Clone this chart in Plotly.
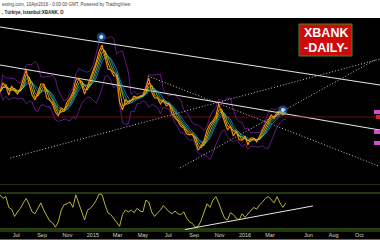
import pandas as pd
import plotly.graph_objects as go

# ---------------- data ----------------
start_date = "2014-05-23"
n_weeks = 99
dates = pd.date_range(start_date, periods=n_weeks, freq="7D")

close = [151500, 156000, 154500, 150000, 154500, 152000, 150500, 153500, 158000, 162500,
         155500, 150000, 147500, 151500, 155500, 155500, 148500, 147500, 145500, 141500,
         139500, 143500, 142500, 146500, 148500, 151500, 157500, 158500, 155000, 150500,
         154500, 158500, 162500, 166500, 172000, 175000, 169000, 163000, 162500, 159500,
         159500, 146500, 142500, 147500, 146500, 147500, 149500, 148500, 149500, 150000,
         153500, 158500, 151500, 148500, 148500, 145500, 147500, 144500, 145500, 140500,
         138500, 137000, 134500, 133500, 130500, 130000, 130500, 126500, 122500, 124500,
         127500, 132500, 135500, 137000, 139500, 145500, 140500, 136500, 132500, 134500,
         129500, 132000, 127500, 127500, 129500, 125000, 128500, 128500, 126500, 129500,
         132500, 135500, 137500, 140000, 138500, 141500, 142000, 140000, 141000]

rsi = [68, 64, 66, 54, 52, 44, 49, 53, 59, 64,
       57, 49, 47, 54, 59, 51, 44, 39, 37, 32,
       38, 51, 57, 58, 60, 54, 68, 59, 49, 40,
       51, 53, 57, 62, 69, 68, 57, 48, 46, 42,
       38, 33, 46, 51, 49, 51, 48, 53, 50, 49,
       62, 60, 49, 44, 48, 51, 56, 52, 49, 47,
       50, 47, 46, 49, 42, 38, 36, 32, 33, 40,
       50, 58, 54, 62, 66, 59, 50, 42, 40, 48,
       46, 42, 40, 47, 43, 47, 50, 54, 52, 57,
       60, 64, 66, 62, 59, 66, 59, 54, 59]

tick_dates = ["2014-07-01", "2014-09-01", "2014-11-01", "2015-01-01", "2015-03-01", "2015-05-01",
              "2015-07-01", "2015-09-01", "2015-11-01", "2016-01-01", "2016-03-01", "2016-06-01",
              "2016-08-01", "2016-10-01"]
tick_labels = ["Jul", "Sep", "Nov", "2015", "Mar", "May", "Jul", "Sep", "Nov", "2016", "Mar",
               "Jun", "Aug", "Oct"]

# drawn trendlines (date, price) endpoints
upper_line_x = ["2014-05-23", "2016-11-20"]
upper_line_y = [184000, 155000]
lower_line_x = ["2014-05-23", "2016-11-20"]
lower_line_y = [165000, 132500]
dot_line1_x = ["2014-06-17", "2016-11-20"]
dot_line1_y = [118500, 168000]
dot_line2_x = ["2015-05-13", "2016-11-20"]
dot_line2_y = [159500, 114250]
dot_line3_x = ["2015-07-29", "2016-11-08"]
dot_line3_y = [113500, 167500]
red_level = 139000
rsi_line_x = ["2015-08-10", "2016-06-12"]
rsi_line_y = [29.4, 55.6]
marker_x = ["2015-01-21", "2016-04-01"]
marker_y = [179000, 142500]
rsi_levels = [80, 70, 30]
scale_labels = [141500, 131500, 126000]

x_range = ["2014-05-23", "2016-11-20"]

# ---------------- figure ----------------
s = pd.Series(close, index=dates)
ma_specs = [(5, "#1e88e5"), (4, "#26a69a"), (3, "#9ccc65"), (2, "#ffd600")]
mid = s.rolling(5, min_periods=1).mean()
sd = s.rolling(5, min_periods=2).std().fillna(0)
upper_band = mid + 2 * sd
lower_band = mid - 2 * sd

fig = go.Figure()
fig.add_trace(go.Scatter(x=dates, y=upper_band, mode="lines",
                         line=dict(color="#7b1fa2", width=0.8), hoverinfo="skip"))
fig.add_trace(go.Scatter(x=dates, y=lower_band, mode="lines",
                         line=dict(color="#7b1fa2", width=0.8), hoverinfo="skip"))

for xs, ys, dash, w, c in [(upper_line_x, upper_line_y, "solid", 1.2, "#e6e6e6"),
                           (lower_line_x, lower_line_y, "solid", 1.2, "#e6e6e6"),
                           (dot_line1_x, dot_line1_y, "1px,2px", 1, "#c8c8c8"),
                           (dot_line2_x, dot_line2_y, "1px,2px", 1, "#c8c8c8"),
                           (dot_line3_x, dot_line3_y, "1px,2px", 1, "#c8c8c8")]:
    fig.add_trace(go.Scatter(x=xs, y=ys, mode="lines",
                             line=dict(color=c, width=w, dash=dash), hoverinfo="skip"))

fig.add_trace(go.Scatter(x=x_range, y=[red_level, red_level], mode="lines",
                         line=dict(color="#8b1010", width=0.8), hoverinfo="skip"))

for w, c in ma_specs:
    fig.add_trace(go.Scatter(x=dates, y=s.rolling(w, min_periods=1).mean(), mode="lines",
                             line=dict(color=c, width=0.8), hoverinfo="skip"))
fig.add_trace(go.Scatter(x=dates, y=close, mode="lines",
                         line=dict(color="#ff8f00", width=1.1), hoverinfo="skip"))

fig.add_trace(go.Scatter(x=marker_x, y=marker_y, mode="markers",
                         marker=dict(size=9, color="rgba(60,150,255,0.45)"), hoverinfo="skip"))
fig.add_trace(go.Scatter(x=marker_x, y=marker_y, mode="markers",
                         marker=dict(size=4, color="#b3e5fc"), hoverinfo="skip"))

# RSI pane
for lvl, c in zip(rsi_levels, ["#4d4d30", "#4a6a22", "#4a7a22"]):
    fig.add_trace(go.Scatter(x=x_range, y=[lvl, lvl], mode="lines", xaxis="x2", yaxis="y2",
                             line=dict(color=c, width=1), hoverinfo="skip"))
fig.add_trace(go.Scatter(x=dates, y=rsi, mode="lines", xaxis="x2", yaxis="y2",
                         line=dict(color="#c8c83a", width=0.9), hoverinfo="skip"))
fig.add_trace(go.Scatter(x=rsi_line_x, y=rsi_line_y, mode="lines", xaxis="x2", yaxis="y2",
                         line=dict(color="#e6e6e6", width=1), hoverinfo="skip"))

H = 212.0
shapes = [
    dict(type="rect", xref="paper", yref="paper", x0=0, x1=1, y0=1, y1=1 + 18 / H,
         fillcolor="white", line=dict(width=0)),
    dict(type="rect", xref="paper", yref="paper", x0=299 / 380, x1=352 / 380,
         y0=(230 - 56) / H, y1=(230 - 24) / H, fillcolor="#cc0a0a",
         line=dict(color="#3a8a1a", width=1)),
    dict(type="line", xref="paper", yref="paper", x0=0, x1=1, y0=-1 / H, y1=-1 / H,
         line=dict(color="#4a6a22", width=1)),
    dict(type="line", xref="paper", yref="paper", x0=0, x1=1, y0=-9.5 / H, y1=-9.5 / H,
         line=dict(color="#666666", width=1)),
]
for p in scale_labels:
    shapes.append(dict(type="rect", xref="paper", yref="y", x0=374 / 380, x1=1,
                       y0=p - 1000, y1=p + 1000, fillcolor="#d64bd6", line=dict(width=0)))
shapes.append(dict(type="rect", xref="paper", yref="y", x0=376 / 380, x1=1,
                   y0=red_level - 1000, y1=red_level + 1000, fillcolor="#e02020",
                   line=dict(width=0)))

annotations = [
    dict(x=0, y=(230 - 5) / H, xref="paper", yref="paper", xanchor="left", yanchor="middle",
         text="esting.com, 10Apr2016 - 0:00:00 GMT, Powered by TradingView", showarrow=False,
         font=dict(size=4.5, color="#444", family="Liberation Sans")),
    dict(x=0, y=(230 - 13) / H, xref="paper", yref="paper", xanchor="left", yanchor="middle",
         text="<b>, Türkiye, Istanbul:XBANK, D</b>", showarrow=False,
         font=dict(size=4.5, color="#222", family="Liberation Sans")),
    dict(x=325.5 / 380, y=(230 - 33) / H, xref="paper", yref="paper", xanchor="center",
         yanchor="middle", text="<b>XBANK</b>", showarrow=False,
         font=dict(size=12.5, color="white", family="Liberation Sans")),
    dict(x=325.5 / 380, y=(230 - 48) / H, xref="paper", yref="paper", xanchor="center",
         yanchor="middle", text="<b>-DAILY-</b>", showarrow=False,
         font=dict(size=12.5, color="white", family="Liberation Sans")),
]

fig.update_layout(
    width=380, height=240, margin=dict(l=0, r=0, t=18, b=10),
    paper_bgcolor="black", plot_bgcolor="black", showlegend=False,
    xaxis=dict(domain=[0, 1], anchor="y", range=x_range, type="date", visible=False,
               showgrid=False, zeroline=False),
    yaxis=dict(domain=[(230 - 181) / H, 1], range=[107000, 188500], visible=False,
               showgrid=False, zeroline=False),
    xaxis2=dict(domain=[0, 1], anchor="y2", range=x_range, type="date", showgrid=False,
                zeroline=False, showline=False, ticks="", tickvals=tick_dates,
                ticktext=tick_labels, tickfont=dict(size=5.5, color="#d8d8b8",
                                                    family="Liberation Sans")),
    yaxis2=dict(domain=[0, (230 - 184) / H], range=[28.89, 80], visible=False,
                showgrid=False, zeroline=False),
    shapes=shapes, annotations=annotations,
)

fig.write_html("out.html")
